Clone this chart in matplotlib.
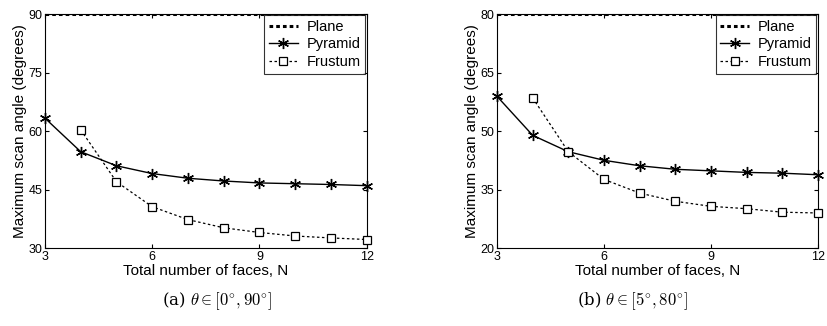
import matplotlib.pyplot as plt
import numpy as np

plt.rcParams['font.family'] = ['Liberation Sans', 'DejaVu Sans']
plt.rcParams['mathtext.fontset'] = 'cm'

# total number of faces
n_pyramid = [3, 4, 5, 6, 7, 8, 9, 10, 11, 12]
n_frustum = [4, 5, 6, 7, 8, 9, 10, 11, 12]

# (a) theta in [0, 90]
plane_a = 90
pyramid_a = [63.3, 54.7, 51.1, 49.1, 47.9, 47.2, 46.7, 46.5, 46.3, 46.0]
frustum_a = [60.3, 47.0, 40.6, 37.3, 35.2, 34.0, 33.1, 32.6, 32.2]

# (b) theta in [5, 80]
plane_b = 80
pyramid_b = [58.9, 48.9, 44.7, 42.5, 41.1, 40.2, 39.8, 39.4, 39.2, 38.8]
frustum_b = [58.5, 44.7, 37.6, 34.1, 32.0, 30.7, 30.1, 29.2, 29.0]

xticks = [3, 6, 9, 12]
yticks_a = [30, 45, 60, 75, 90]
yticks_b = [20, 35, 50, 65, 80]
captions = [r'(a) $\theta \in [0^{\circ}, 90^{\circ}]$',
            r'(b) $\theta \in [5^{\circ}, 80^{\circ}]$']

asterisk = (6, 2, 0)

fig = plt.figure(figsize=(8.27, 3.26), dpi=100)
ax_a = fig.add_axes([0.0544, 0.239, 0.389, 0.718])
ax_b = fig.add_axes([0.601, 0.239, 0.388, 0.718])

panels = [
    (ax_a, plane_a, pyramid_a, frustum_a, yticks_a),
    (ax_b, plane_b, pyramid_b, frustum_b, yticks_b),
]

for i, (ax, plane, pyr, fru, yt) in enumerate(panels):
    ax.plot([3, 12], [plane, plane], color='k', ls=(0, (1.2, 1.0)), lw=2.2, label='Plane')
    ax.plot(n_pyramid, pyr, color='k', ls='-', lw=1.0, marker=asterisk,
            ms=8, mew=1.0, label='Pyramid', clip_on=False, zorder=3)
    ax.plot(n_frustum, fru, color='k', ls=(0, (2, 2)), lw=0.9, marker='s',
            ms=6, mfc='white', mec='k', mew=0.9, label='Frustum', clip_on=False, zorder=3)
    ax.set_xlim(3, 12)
    ax.set_ylim(yt[0], yt[-1])
    ax.set_xticks(xticks)
    ax.set_yticks(yt)
    ax.tick_params(direction='in', length=3, labelsize=9, top=True, right=True, pad=2)
    ax.set_xlabel('Total number of faces, N', fontsize=11, labelpad=1)
    ax.set_ylabel('Maximum scan angle (degrees)', fontsize=11, labelpad=1)
    leg = ax.legend(loc='upper right', fontsize=10.5, frameon=True, fancybox=False,
                    edgecolor='k', borderpad=0.3, labelspacing=0.25,
                    handlelength=2.0, handletextpad=0.6, borderaxespad=0.1)
    leg.get_frame().set_linewidth(0.8)
    leg.set_zorder(5)
    for s in ax.spines.values():
        s.set_linewidth(0.8)

fig.text(0.262, 0.075, captions[0], ha='center', va='center', fontsize=12,
         family='DejaVu Serif')
fig.text(0.765, 0.075, captions[1], ha='center', va='center', fontsize=12,
         family='DejaVu Serif')

fig.savefig('out.png', dpi=100)
